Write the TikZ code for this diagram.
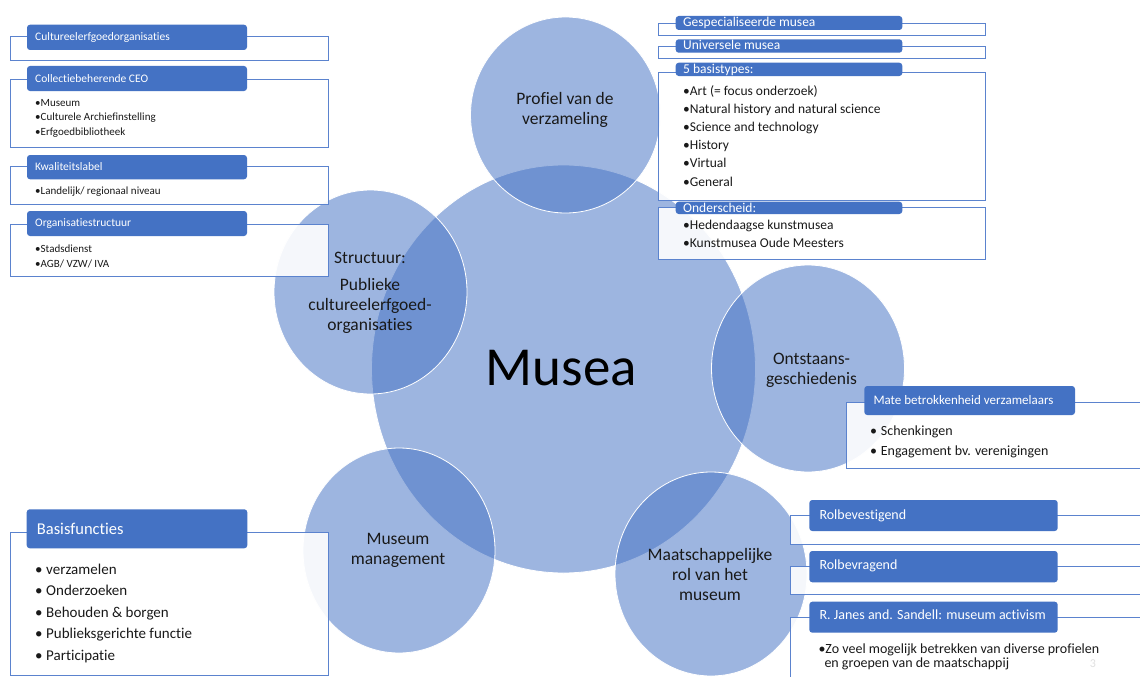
\documentclass[tikz,border=0pt]{standalone}
\usepackage{fontspec}
\setmainfont{Carlito}[Ligatures=NoCommon]
\usetikzlibrary{shapes.geometric}
\definecolor{ob}{HTML}{4472C4}
\definecolor{obl}{HTML}{5B83CE}
\newcommand\fsz[2]{\fontsize{#1}{#2}\selectfont}
\tikzset{
  circ/.style={ellipse, fill=ob, fill opacity=0.52, draw=white, line width=0.8pt, inner sep=0pt},
  obox/.style={rectangle, draw=obl, line width=0.9pt, fill=white, fill opacity=0.9, inner sep=0pt},
  hdr/.style={rectangle, rounded corners=3pt, fill=ob, inner sep=0pt},
  htext/.style={anchor=base west, text=white, inner sep=0pt},
  item/.style={anchor=base west, text=black!90, inner sep=0pt},
  ctext/.style={align=center, text=black!90, font=\fsz{17.5}{20}, inner sep=0pt}
}
% outline box: name, x1, y1, x2, y2
\newcommand\obx[5]{\node[obox, minimum width={(#4-#2)*1pt}, minimum height={(#5-#3)*1pt}] (#1) at ({(#2+#4)/2},{(#3+#5)/2}) {};}
% header: name, x1, y1, x2, y2, textx, baseline, font, text
\newcommand\hdx[9]{\node[hdr, minimum width={(#4-#2)*1pt}, minimum height={(#5-#3)*1pt}] (#1) at ({(#2+#4)/2},{(#3+#5)/2}) {};
  \node[htext, font=#8] (#1t) at (#6,#7) {#9};}
% items: prefix, x, y0, dy, font, list
\newcommand\itx[6]{\foreach \t [count=\i] in {#6} {\node[item, font=#5] (#1-\i) at (#2,{#3+(\i-1)*#4}) {\t};}}
\newcommand\bul[1]{\makebox[#1][l]{•}}
\begin{document}
\begin{tikzpicture}[x=1pt,y=-1pt]
\useasboundingbox (0,0) rectangle (1140,677);
% circles
\node[circ, minimum width=384pt, minimum height=408pt] (musea) at (563.5,369) {};
\node[circ, minimum width=190pt, minimum height=196pt] (profiel) at (565.5,115) {};
\node[circ, minimum width=193pt, minimum height=204pt] (struct) at (370.5,292) {};
\node[circ, minimum width=193pt, minimum height=207pt] (ontst) at (808,368.5) {};
\node[circ, minimum width=192pt, minimum height=205pt] (mgmt) at (399,550.5) {};
\node[circ, minimum width=192pt, minimum height=204pt] (maat) at (711,574) {};
% circle texts
\node[inner sep=0pt, anchor=base, font=\fsz{55}{60}] (museat) at (561.5,385) {Musea};
\node[ctext] (profielt) at (565,110) {Profiel van de\\verzameling};
\node[ctext] (structt1) at (370,258) {Structuur:};
\node[ctext] (structt2) at (370,306) {Publieke\\cultureelerfgoed-\\organisaties};
\node[ctext] (ontstt) at (811.5,370) {Ontstaans-\\geschiedenis};
\node[ctext] (mgmtt) at (398,550) {Museum\\management};
\node[ctext] (maatt) at (710,574) {Maatschappelijke\\rol van het\\museum};
% top-left group
\obx{tl1}{10}{36.7}{328}{60}
\hdx{tl1h}{27}{24.7}{247}{50}{35}{41}{\fsz{11.5}{13}}{Cultureelerfgoedorganisaties}
\obx{tl2}{10}{79.3}{328}{147.3}
\hdx{tl2h}{27}{66}{247}{91}{35}{82}{\fsz{11.5}{13}}{Collectiebeherende CEO}
\itx{tl2i}{35}{106}{14.5}{\fsz{11}{13}}{•Museum,•Culturele Archiefinstelling,•Erfgoedbibliotheek}
\obx{tl3}{10}{166.7}{328}{204.3}
\hdx{tl3h}{27}{155}{247}{179.3}{35}{170.5}{\fsz{11.5}{13}}{Kwaliteitslabel}
\itx{tl3i}{35}{194}{14.5}{\fsz{11}{13}}{•Landelijk/ regionaal niveau}
\obx{tl4}{10}{224}{328}{276}
\hdx{tl4h}{27}{211}{247}{236}{35}{226}{\fsz{11.5}{13}}{Organisatiestructuur}
\itx{tl4i}{35}{252}{15}{\fsz{11}{13}}{•Stadsdienst,•AGB/ VZW/ IVA}
% top-right group
\obx{tr1}{658.3}{23.3}{985}{35}
\hdx{tr1h}{675.7}{16}{902.3}{30}{683}{27}{\fsz{13.5}{15}}{Gespecialiseerde musea}
\obx{tr2}{658.3}{46.7}{985}{58.3}
\hdx{tr2h}{675.7}{39.3}{902.3}{52.7}{683}{49.5}{\fsz{13.5}{15}}{Universele musea}
\obx{tr3}{658.3}{72.7}{985}{200.7}
\hdx{tr3h}{675.7}{62.7}{902.3}{76}{683}{74}{\fsz{13.5}{15}}{5 basistypes:}
\itx{tr3i}{683}{95.5}{18.1}{\fsz{13.5}{15}}{•Art (= focus onderzoek),•Natural history and natural science,•Science and technology,•History,•Virtual,•General}
\obx{tr4}{658.3}{207.3}{985}{259.3}
\hdx{tr4h}{675.7}{201.7}{902.3}{214}{683}{212}{\fsz{13.5}{15}}{Onderscheid:}
\itx{tr4i}{683}{229.5}{17.5}{\fsz{13.5}{15}}{•Hedendaagse kunstmusea,•Kunstmusea Oude Meesters}
% Mate betrokkenheid
\obx{mb}{846.7}{402.7}{1142}{468.3}
\hdx{mbh}{864.3}{386}{1075}{415}{873.3}{404.5}{\fsz{13}{15}}{Mate betrokkenheid verzamelaars}
\itx{mbi}{870}{435.5}{19.5}{\fsz{14}{16}}{\bul{10.7pt}Schenkingen,\bul{10.7pt}Engagement bv. verenigingen}
% bottom-right group
\obx{r1}{790}{515.7}{1142}{544.3}
\hdx{r1h}{809.3}{500}{1057.7}{531}{819.3}{519}{\fsz{14}{16}}{Rolbevestigend}
\obx{r2}{790}{566}{1142}{594.3}
\hdx{r2h}{809.3}{551}{1057.7}{582.3}{819.3}{569.5}{\fsz{14}{16}}{Rolbevragend}
\obx{r3}{790}{617.3}{1142}{690}
\hdx{r3h}{809.3}{601.7}{1057.7}{632.7}{819.3}{619.5}{\fsz{14}{16}}{R. Janes and. Sandell: museum activism}
\node[item, font=\fsz{14}{16}] (r3i1) at (818.3,653) {•Zo veel mogelijk betrekken van diverse profielen};
\node[item, font=\fsz{14}{16}] (r3i2) at (824.3,667.5) {en groepen van de maatschappij};
\node[inner sep=0pt, text=black!12, font=\fsz{12}{14}] (pagenr) at (1093,664) {3};
% Basisfuncties
\obx{bf}{10.7}{532.3}{328.3}{675}
\hdx{bfh}{26.7}{509.3}{247.3}{548.3}{36.7}{534}{\fsz{16.5}{18}}{Basisfuncties}
\itx{bfi}{35}{574.5}{21.4}{\fsz{15}{17}}{\bul{11pt}verzamelen,\bul{11pt}Onderzoeken,\bul{11pt}Behouden \& borgen,\bul{11pt}Publieksgerichte functie,\bul{11pt}Participatie}
\end{tikzpicture}
\end{document}
